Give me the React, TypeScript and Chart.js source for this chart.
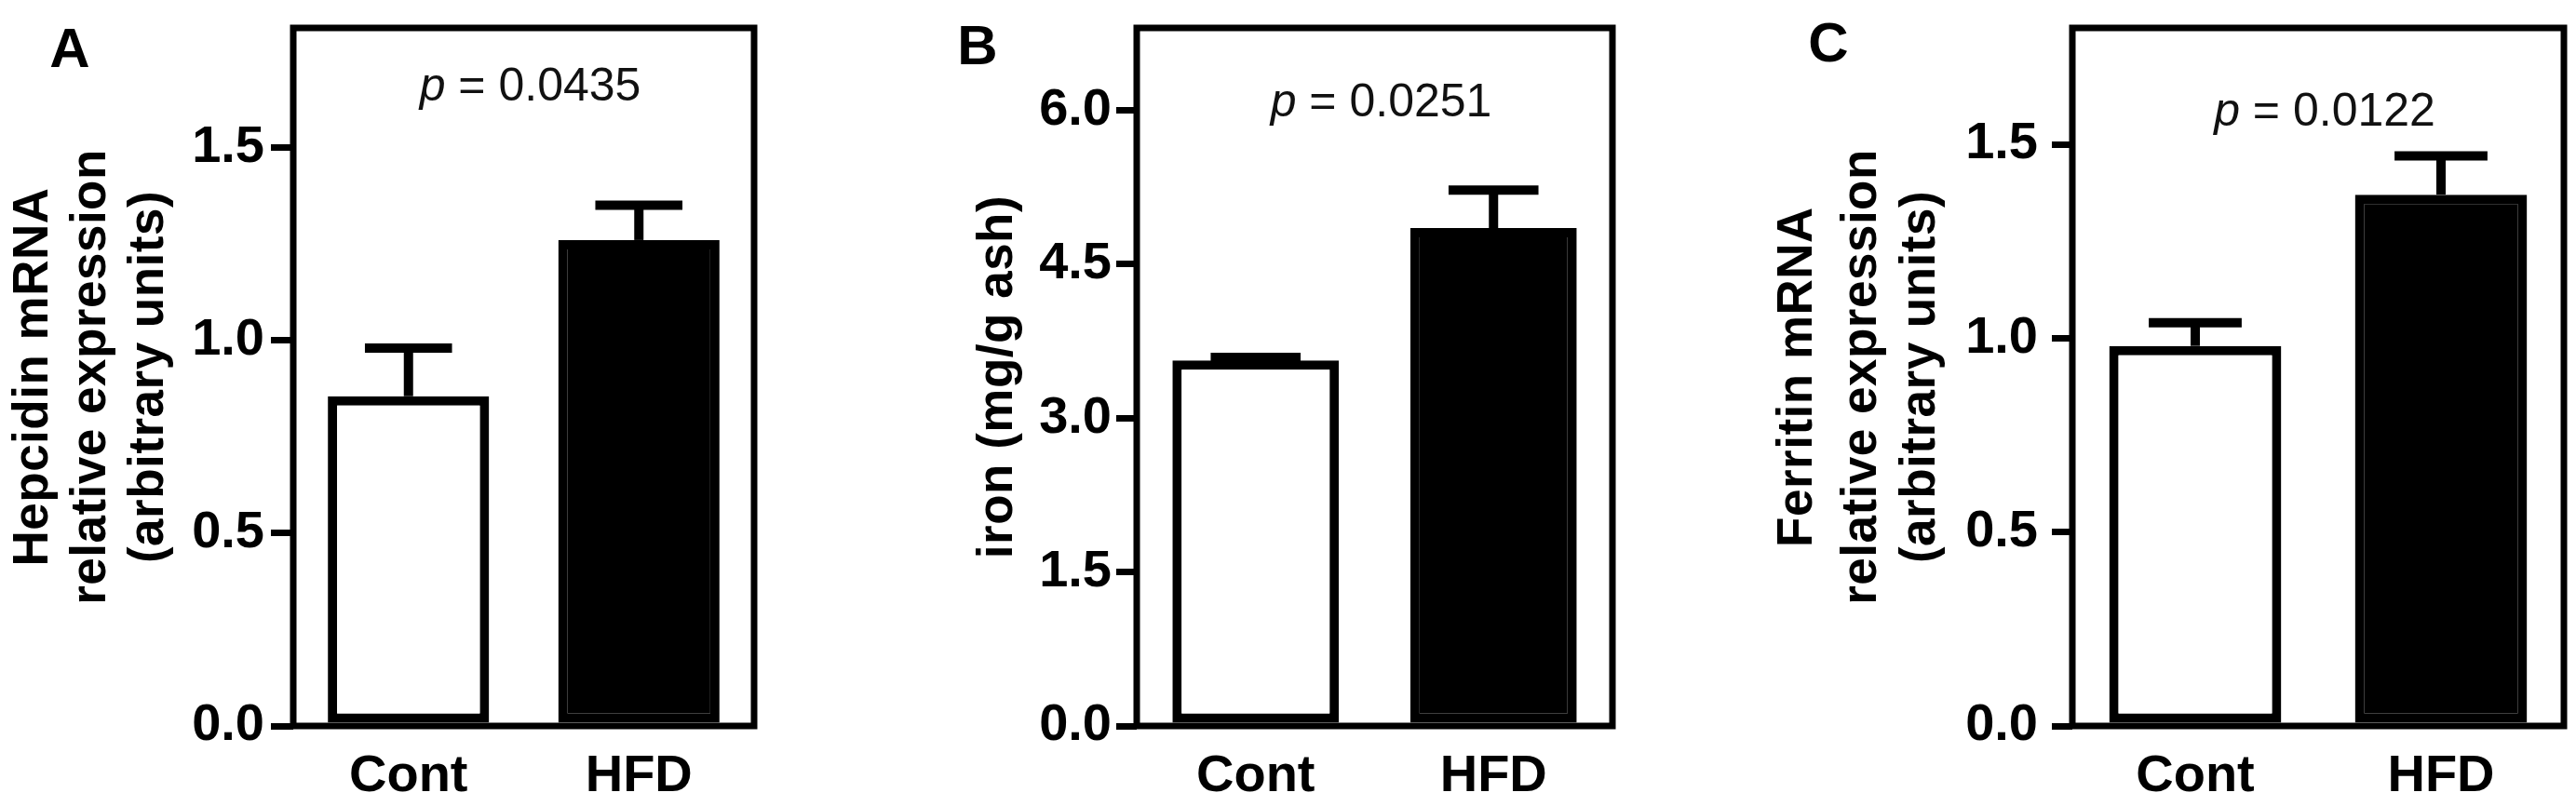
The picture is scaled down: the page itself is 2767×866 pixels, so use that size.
import React, { useEffect, useRef } from 'react';
import { Chart, registerables } from 'chart.js';

Chart.register(...registerables);

// ---------------- data ----------------
const categories = ['Cont', 'HFD'];

const hepcidinMeans = [0.855, 1.26];
const hepcidinSem = [0.125, 0.09];
const hepcidinTicks = [0, 0.5, 1.0, 1.5];

const ironMeans = [3.56, 4.85];
const ironSem = [0.03, 0.37];
const ironTicks = [0, 1.5, 3.0, 4.5, 6.0];

const ferritinMeans = [0.98, 1.37];
const ferritinSem = [0.06, 0.1];
const ferritinTicks = [0, 0.5, 1.0, 1.5];

const pValues = ['0.0435', '0.0251', '0.0122'];
const panelLetters = ['A', 'B', 'C'];
const yTitles = [
  ['Hepcidin mRNA', 'relative expression', '(arbitrary units)'],
  ['iron (mg/g ash)'],
  ['Ferritin mRNA', 'relative expression', '(arbitrary units)'],
];
const yMaxima = [1.81, 6.8, 1.8];

const seriesMeans = [hepcidinMeans, ironMeans, ferritinMeans];
const seriesSem = [hepcidinSem, ironSem, ferritinSem];
const seriesTicks = [hepcidinTicks, ironTicks, ferritinTicks];

// ---------------- styles / layout ----------------
const barFills = ['#ffffff', '#000000'];
const FAMILY = "'Liberation Sans', Arial, Helvetica, sans-serif";
const TICK_FAMILY = "'Liberation Sans Narrow', 'Arial Narrow', 'Liberation Sans', Arial, sans-serif";
const H = 866;
const AREA_TOP = 30;
const AREA_BOTTOM = 780;

const layouts = [
  { canvasLeft: 0, canvasWidth: 920, areaLeft: 315, areaRight: 810, letterX: 75, letterBase: 72, titleBase: [51, 113, 175], pBase: 108, tickPad: 7, tickLen: 24 },
  { canvasLeft: 920, canvasWidth: 920, areaLeft: 1221, areaRight: 1732, letterX: 1050, letterBase: 69, titleBase: [1087], pBase: 125, tickPad: 5, tickLen: 22 },
  { canvasLeft: 1840, canvasWidth: 927, areaLeft: 2226, areaRight: 2754, letterX: 1964, letterBase: 66, titleBase: [1946, 2015, 2078], pBase: 135, tickPad: 15, tickLen: 22 },
];

const errorBarPlugin = {
  id: 'errorBars',
  afterDatasetsDraw(chart: any, _args: any, opts: any) {
    const { ctx } = chart;
    const yScale = chart.scales.y;
    const errs: number[] = opts.errors || [];
    chart.data.datasets.forEach((ds: any, di: number) => {
      const meta = chart.getDatasetMeta(di);
      meta.data.forEach((el: any, i: number) => {
        const v = ds.data[i] as number;
        const top = yScale.getPixelForValue(v + errs[i]);
        const { x, y, width } = el.getProps(['x', 'y', 'width'], true);
        ctx.save();
        ctx.strokeStyle = '#000';
        ctx.lineWidth = 10;
        ctx.lineCap = 'butt';
        ctx.beginPath();
        ctx.moveTo(x, y);
        ctx.lineTo(x, top);
        ctx.stroke();
        ctx.beginPath();
        ctx.moveTo(x - width * 0.27, top);
        ctx.lineTo(x + width * 0.27, top);
        ctx.stroke();
        ctx.restore();
      });
    });
  },
};

const decorationPlugin = {
  id: 'decorations',
  afterDraw(chart: any, _args: any, opts: any) {
    const { ctx, chartArea } = chart;
    const { left, right, top, bottom } = chartArea;
    ctx.save();
    // frame
    ctx.strokeStyle = '#000';
    ctx.lineWidth = 7;
    ctx.strokeRect(left, top, right - left, bottom - top);

    // p value
    ctx.fillStyle = '#111';
    ctx.textBaseline = 'alphabetic';
    ctx.textAlign = 'left';
    ctx.font = `italic 50px ${FAMILY}`;
    const wp = ctx.measureText('p').width;
    ctx.font = `50px ${FAMILY}`;
    const rest = ' = ' + opts.pValue;
    const wr = ctx.measureText(rest).width;
    const cx = (left + right) / 2 + 7;
    const x0 = cx - (wp + wr) / 2;
    ctx.font = `italic 50px ${FAMILY}`;
    ctx.fillText('p', x0, opts.pBase);
    ctx.font = `50px ${FAMILY}`;
    ctx.fillText(rest, x0 + wp, opts.pBase);

    // y title (rotated)
    ctx.fillStyle = '#000';
    ctx.font = `bold 53px ${FAMILY}`;
    ctx.textAlign = 'center';
    (ctx as any).letterSpacing = '0.5px';
    const cy = (top + bottom) / 2;
    opts.title.forEach((line: string, i: number) => {
      ctx.save();
      ctx.translate(opts.titleBase[i], cy);
      ctx.rotate(-Math.PI / 2);
      ctx.fillText(line, 0, 0);
      ctx.restore();
    });
    (ctx as any).letterSpacing = '0px';

    // panel letter
    ctx.font = `bold 60px ${FAMILY}`;
    ctx.textAlign = 'center';
    ctx.fillText(opts.letter, opts.letterX, opts.letterBase);
    ctx.restore();
  },
};

function Panel({ idx }: { idx: number }) {
  const ref = useRef<HTMLCanvasElement>(null);
  const L = layouts[idx];

  useEffect(() => {
    const canvas = ref.current;
    if (!canvas) return;
    const ticks = seriesTicks[idx];
    const chart = new Chart(canvas, {
      type: 'bar',
      data: {
        labels: categories,
        datasets: [
          {
            data: seriesMeans[idx],
            backgroundColor: barFills,
            borderColor: '#000',
            borderWidth: 10,
            borderSkipped: false,
            barPercentage: 0.7,
            categoryPercentage: 1,
          } as any,
        ],
      },
      options: {
        responsive: false,
        animation: false,
        devicePixelRatio: 1,
        events: [],
        layout: {
          padding: {
            top: AREA_TOP,
            left: 0,
            bottom: 0,
            right: L.canvasWidth - (L.areaRight - L.canvasLeft),
          },
        },
        plugins: {
          legend: { display: false },
          tooltip: { enabled: false },
          title: { display: false },
          errorBars: { errors: seriesSem[idx] },
          decorations: {
            pValue: pValues[idx],
            pBase: L.pBase,
            title: yTitles[idx],
            titleBase: L.titleBase.map((b) => b - L.canvasLeft),
            letter: panelLetters[idx],
            letterX: L.letterX - L.canvasLeft,
            letterBase: L.letterBase,
          },
        } as any,
        scales: {
          x: {
            grid: { display: false, drawTicks: false },
            border: { display: false },
            ticks: {
              color: '#000',
              font: { family: FAMILY, size: 56, weight: 'bold' },
              padding: 21,
              maxRotation: 0,
              autoSkip: false,
            },
            afterFit: (s: any) => {
              s.height = H - AREA_BOTTOM;
              s.paddingLeft = 0;
              s.paddingRight = 0;
            },
          },
          y: {
            min: 0,
            max: yMaxima[idx],
            afterBuildTicks: (s: any) => {
              s.ticks = ticks.map((v) => ({ value: v }));
            },
            ticks: {
              callback: (v: any) => Number(v).toFixed(1),
              color: '#000',
              font: { family: TICK_FAMILY, size: 56, weight: 'bold' },
              padding: L.tickPad,
            },
            grid: {
              drawOnChartArea: false,
              drawTicks: true,
              tickLength: L.tickLen,
              tickWidth: 7,
              tickColor: '#000',
              lineWidth: 7,
              color: '#000',
            },
            border: { display: false },
            afterFit: (s: any) => {
              s.width = L.areaLeft - L.canvasLeft;
              s.paddingTop = 0;
              s.paddingBottom = 0;
            },
          },
        } as any,
      },
      plugins: [errorBarPlugin, decorationPlugin],
    });
    return () => chart.destroy();
  }, [idx]);

  return (
    <canvas
      ref={ref}
      width={L.canvasWidth}
      height={H}
      style={{ position: 'absolute', left: L.canvasLeft, top: 0, width: L.canvasWidth, height: H }}
    />
  );
}

export default function App() {
  return (
    <div style={{ position: 'absolute', left: 0, top: 0, width: 2767, height: H, background: '#fff', overflow: 'hidden' }}>
      {layouts.map((_, i) => (
        <Panel key={i} idx={i} />
      ))}
    </div>
  );
}
